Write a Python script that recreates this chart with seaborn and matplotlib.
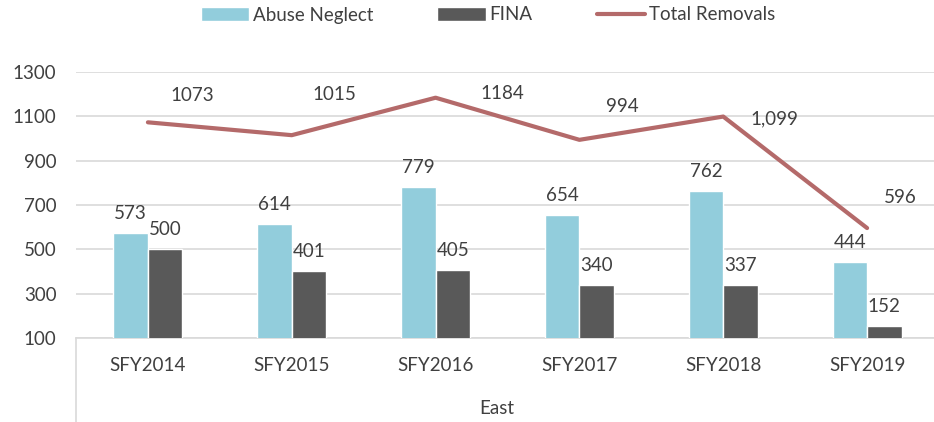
# removals_east.py
# East region - removals by type, SFY2014-2019

import pandas as pd
import seaborn as sns
import matplotlib.pyplot as plt

sns.set_style("white")
plt.rcParams["font.family"] = ["Lato", "DejaVu Sans"]

# Data
years = ["SFY2014", "SFY2015", "SFY2016", "SFY2017", "SFY2018", "SFY2019"]
abuse_neglect = [573, 614, 779, 654, 762, 444]
fina = [500, 401, 405, 340, 337, 152]
total_removals = [1073, 1015, 1184, 994, 1099, 596]
total_labels = ["1073", "1015", "1184", "994", "1,099", "596"]
region = "East"

# label nudges for the line values (points)
line_label_offsets = [(32, 19), (31, 29), (48, 3), (31, 24), (37, -2), (24, 22)]

text_col = "#404040"
grid_col = "#D9D9D9"
blue = "#92CDDC"
gray = "#595959"
red = "#B46A6A"

df = pd.DataFrame({
    "year": years * 2,
    "value": abuse_neglect + fina,
    "type": ["Abuse Neglect"] * len(years) + ["FINA"] * len(years),
})

fig = plt.figure(figsize=(9.34, 4.22), dpi=100)
ax = fig.add_axes([76 / 934, 1 - 338 / 422, 863 / 934, 266 / 422])

sns.barplot(data=df, x="year", y="value", hue="type", palette=[blue, gray],
            width=0.48, gap=0, saturation=1, ax=ax, zorder=3)
sns.pointplot(x=years, y=total_removals, color=red, markers="", errorbar=None,
              linewidth=3, ax=ax, zorder=4, label="Total Removals")
for ln in ax.lines:
    ln.set_solid_capstyle("round")

# value labels
for cont in ax.containers:
    ax.bar_label(cont, fontsize=13.5, color=text_col, padding=8)
for i, (lab, off) in enumerate(zip(total_labels, line_label_offsets)):
    ax.annotate(lab, (i, total_removals[i]), xytext=off, textcoords="offset points",
                ha="center", va="center", fontsize=13.5, color=text_col)

ax.set_ylim(100, 1300)
ax.set_yticks(range(100, 1301, 200))
ax.set_xlim(-0.5, 5.5)
ax.yaxis.grid(True, color=grid_col, linewidth=1.2, zorder=0)
ax.set_axisbelow(True)
for s in ["top", "right", "left"]:
    ax.spines[s].set_visible(False)
ax.spines["bottom"].set_color(grid_col)
ax.spines["bottom"].set_linewidth(1.2)
ax.tick_params(axis="y", length=0, pad=14, labelsize=13.5, labelcolor=text_col)
ax.tick_params(axis="x", length=0, pad=14, labelsize=13.5, labelcolor=text_col)
ax.set_xlabel("")
ax.set_ylabel("")

# group box line and group label under the categories
ax.plot([0, 0], [0, -0.4], transform=ax.transAxes, clip_on=False,
        color=grid_col, linewidth=1.2)
fig.text(497 / 934, 1 - 408 / 422, region, ha="center", va="center",
         fontsize=13.5, color=text_col)

handles, labels = ax.get_legend_handles_labels()
ax.legend(handles, labels, loc="center", bbox_to_anchor=(488 / 934, 1 - 15 / 422),
          bbox_transform=fig.transFigure, ncol=3, frameon=False, fontsize=13.5,
          labelcolor=text_col, handlelength=2.6, handletextpad=0.2,
          columnspacing=3.4)

plt.savefig("out.png", dpi=100)
